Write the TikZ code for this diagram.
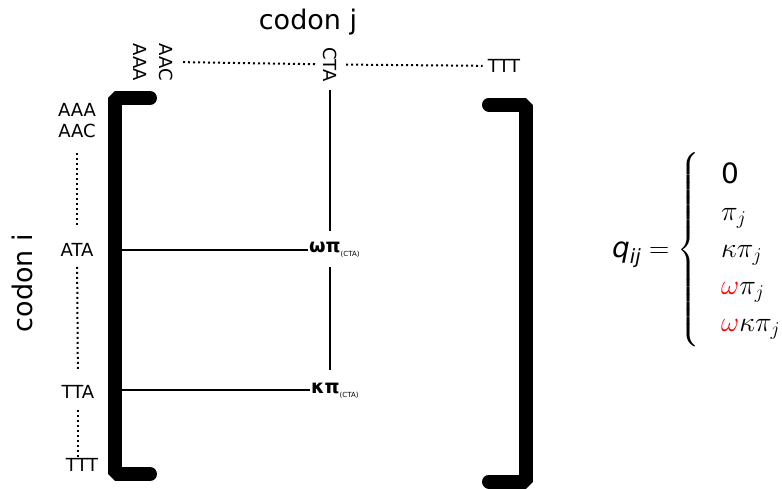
\RequirePackage{fix-cm}
\documentclass[tikz,border=0pt]{standalone}
\usepackage{amsmath}
\usepackage{fontspec}
\setmainfont{DejaVu Sans}
\usetikzlibrary{positioning}

\begin{document}
\begin{tikzpicture}
	[
	x=1pt, y=-1pt,
	codon/.style = {font=\fontsize{18}{20}\selectfont, inner sep=0pt},
	axis/.style = {font=\fontsize{27}{30}\selectfont},
	rate/.style = {font=\fontsize{19}{21}\selectfont\bfseries, inner sep=1pt},
	bracket/.style = {line width=14pt, line join=bevel, line cap=round},
	link/.style = {line width=1.8pt},
	gap/.style = {line width=2pt, dash pattern=on 2pt off 3pt}
	]
	\useasboundingbox (0,0) rectangle (782,488);

	% axis titles
	\node[axis, anchor=base] (codonj) at (308,29) {codon j};
	\node[axis, rotate=90] (codoni) at (22,283) {codon i};

	% codons of the columns
	\node[codon, rotate=-90, anchor=west] (cAAA) at (140,43) {AAA};
	\node[codon, rotate=-90, anchor=west] (cAAC) at (166,43) {AAC};
	\node[codon, rotate=-90, anchor=west] (cCTA) at (330,47) {CTA};
	\node[codon] (cTTT) at (504,66) {TTT};
	\draw[gap, shorten <=10pt, shorten >=8pt] (cAAC) -- (cCTA);
	\draw[gap, shorten <=9pt, shorten >=5pt] (cCTA) -- (cTTT);

	% codons of the rows
	\node[codon] (rAAA) at (77,110) {AAA};
	\node[codon] (rAAC) at (77,131) {AAC};
	\node[codon] (rATA) at (77,250) {ATA};
	\node[codon] (rTTA) at (78,392) {TTA};
	\node[codon] (rTTT) at (82,465) {TTT};
	\draw[gap, shorten <=15pt, shorten >=16pt] (rAAC) -- (rATA);
	\draw[gap, shorten <=10pt, shorten >=15pt] (rATA) -- (rTTA);
	\draw[gap, shorten <=11pt, shorten >=6pt] (rTTA) -- (rTTA |- rTTT);

	% matrix brackets
	\draw[bracket] (150,98) -- (114.5,98) -- (114.5,474) -- (150,474);
	\draw[bracket] (489,104.5) -- (525.5,104.5) -- (525.5,481.5) -- (489,481.5);
	\coordinate (ataL) at (122,250);
	\coordinate (ttaL) at (122,390);

	% entries
	\node[rate, anchor=west] (wpi) at (308,250) {ωπ\raisebox{-4pt}{\fontsize{7}{8}\selectfont\mdseries (CTA)}};
	\node[rate, anchor=west] (kpi) at (310,391) {κπ\raisebox{-4pt}{\fontsize{7}{8}\selectfont\mdseries (CTA)}};
	\draw[link] (ataL) -- (ataL -| wpi.west);
	\draw[link] (ttaL) -- (ttaL -| kpi.west);
	\draw[link, shorten <=8pt, shorten >=10pt] (cCTA) -- (cCTA |- wpi.north);
	\draw[link, shorten <=8pt, shorten >=12pt] (cCTA |- wpi.south) -- (cCTA |- kpi.north);

	% rate definition
	\node[anchor=west, inner sep=0pt, font=\fontsize{28}{37}\selectfont] (qij) at (612,250)
		{\setlength{\arraycolsep}{22pt}$\text{\itshape q}_{\text{\itshape ij}} = \left\{\begin{array}{l}
		\text{0}\\ \pi_j\\ \kappa\pi_j\\ \textcolor{red}{\omega}\pi_j\\ \textcolor{red}{\omega}\kappa\pi_j
		\end{array}\right.$};
\end{tikzpicture}
\end{document}
